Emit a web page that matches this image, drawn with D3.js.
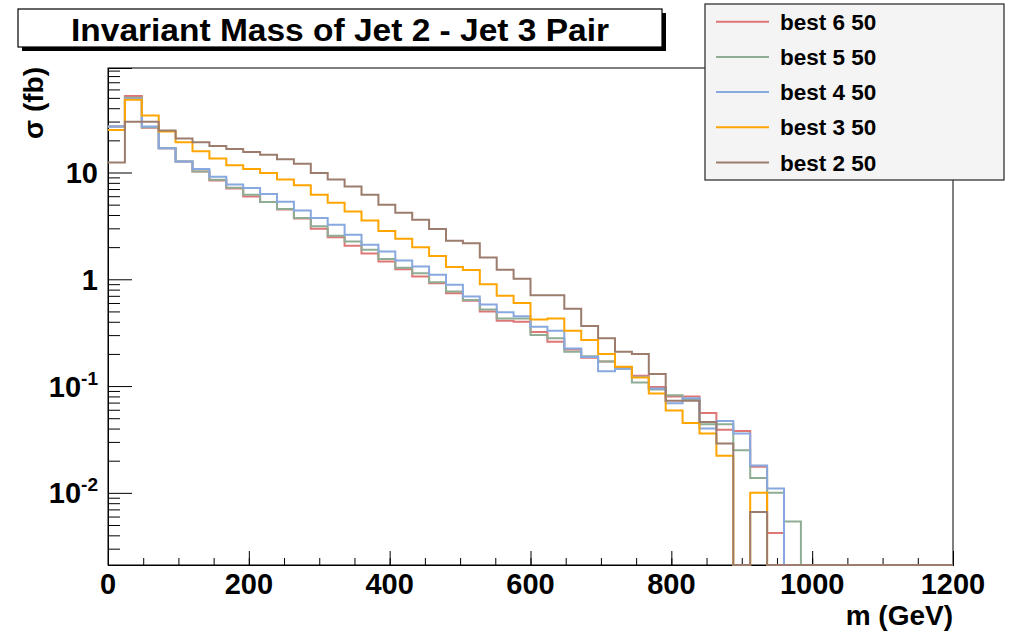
<!DOCTYPE html>
<html><head><meta charset="utf-8">
<script src="https://cdn.jsdelivr.net/npm/d3@7"></script>
<style>
html,body{margin:0;padding:0;background:#fff;}
svg{display:block;font-family:"Liberation Sans",Arial,Helvetica,sans-serif;font-weight:bold;}
</style></head>
<body>
<svg id="c" width="1014" height="635"></svg>
<script>
// ---- data ----
const title = "Invariant Mass of Jet 2 - Jet 3 Pair";
const xTitle = "m (GeV)";
const yTitle = "σ (fb)";
const binWidth = 24; // GeV, 50 bins over 0-1200
const xTicks = [0, 200, 400, 600, 800, 1000, 1200];
const yTicks = [0.01, 0.1, 1, 10];
const yTickLabels = [["10","-2"], ["10","-1"], ["1",""], ["10",""]];
const seriesNames = ["best 6 50", "best 5 50", "best 4 50", "best 3 50", "best 2 50"];
const seriesColors = ["#de7676", "#8fad95", "#88a8e0", "#ffa500", "#9c7c6c"];

const best6 = [27, 52, 26.3, 16.9, 12.7, 10.2, 8.4, 7.1, 5.97, 5.28, 4.5, 3.7, 2.97, 2.47, 2.06, 1.74, 1.47, 1.24, 1.06, 0.92,
  0.74, 0.63, 0.50, 0.41, 0.40, 0.32, 0.26, 0.22, 0.184, 0.17, 0.15, 0.125, 0.098, 0.080, 0.080, 0.056, 0.039, 0.038, 0.0176, 0.0042,
  0, 0, 0, 0, 0, 0, 0, 0, 0, 0];
const best5 = [27, 50, 26.5, 16.9, 12.7, 10.2, 8.55, 7.2, 6.2, 5.28, 4.54, 3.74, 3.13, 2.56, 2.26, 1.89, 1.55, 1.28, 1.14, 0.94,
  0.77, 0.64, 0.52, 0.43, 0.43, 0.30, 0.28, 0.21, 0.19, 0.17, 0.145, 0.108, 0.093, 0.082, 0.075, 0.044, 0.044, 0.025, 0.0138, 0.0100,
  0.0054, 0, 0, 0, 0, 0, 0, 0, 0, 0];
const best4 = [27, 49, 26.9, 16.9, 12.7, 10.8, 9.1, 7.7, 7.15, 6.3, 5.32, 4.41, 3.74, 3.24, 2.61, 2.11, 1.82, 1.5, 1.32, 1.10,
  0.89, 0.69, 0.58, 0.49, 0.45, 0.36, 0.33, 0.225, 0.187, 0.138, 0.145, 0.122, 0.095, 0.069, 0.077, 0.040, 0.047, 0.036, 0.018, 0.011,
  0, 0, 0, 0, 0, 0, 0, 0, 0, 0];
const best3 = [25, 48, 34.1, 24.2, 19.2, 15.8, 13.5, 11.7, 10.8, 9.87, 8.6, 7.6, 6.18, 5.2, 4.32, 3.56, 2.83, 2.40, 2.0, 1.65,
  1.30, 1.22, 0.90, 0.70, 0.60, 0.42, 0.43, 0.33, 0.27, 0.20, 0.152, 0.12, 0.085, 0.059, 0.045, 0.036, 0.0222, 0, 0.0100, 0,
  0, 0, 0, 0, 0, 0, 0, 0, 0, 0];
const best2 = [12.4, 29.8, 29.8, 24.7, 20.8, 19.2, 17.7, 16.6, 15.6, 14.7, 13.3, 12.1, 9.9, 8.6, 7.4, 6.18, 4.99, 4.2, 3.61, 2.95,
  2.30, 2.18, 1.60, 1.23, 1.01, 0.71, 0.71, 0.53, 0.365, 0.28, 0.21, 0.20, 0.13, 0.073, 0.073, 0.046, 0.029, 0, 0.0066, 0,
  0, 0, 0, 0, 0, 0, 0, 0, 0, 0];
const seriesValues = [best6, best5, best4, best3, best2];

// ---- layout ----
const L = 108, R = 953, T = 68, B = 565;
const yMin = 0.00211, yMax = 95.2;
const svg = d3.select("#c");
const x = d3.scaleLinear().domain([0, 1200]).range([L, R]);
const y = d3.scaleLog().domain([yMin, yMax]).range([B, T]);

svg.append("defs").append("clipPath").attr("id", "clip")
  .append("rect").attr("x", L).attr("y", T - 2).attr("width", R - L + 1).attr("height", B - T + 3);

// frame
svg.append("rect").attr("x", L).attr("y", T).attr("width", R - L).attr("height", B - T)
  .attr("fill", "none").attr("stroke", "#000").attr("stroke-width", 1);

// x axis
const xMinor = d3.range(0, 1201, 50);
const gx = svg.append("g").attr("transform", `translate(0,${B})`);
gx.call(d3.axisBottom(x).tickValues(xMinor).tickSize(-7).tickFormat(""));
gx.append("g").call(d3.axisBottom(x).tickValues(xTicks).tickSize(-14).tickFormat(""));
gx.selectAll(".domain").attr("stroke", "#000");
gx.selectAll("line").attr("stroke", "#000");
svg.append("g").selectAll("text").data(xTicks).join("text")
  .attr("x", d => x(d)).attr("y", 594).attr("text-anchor", "middle")
  .attr("font-size", 29).attr("fill", "#000").text(d => d);
svg.append("text").attr("x", R).attr("y", 625).attr("text-anchor", "end")
  .attr("font-size", 28).attr("fill", "#000").text(xTitle);

// y axis
const yMinor = [];
[-3, -2, -1, 0, 1].forEach(d => { for (let k = 2; k <= 9; k++) { const v = k * Math.pow(10, d); if (v > yMin && v < yMax) yMinor.push(v); } });
const gy = svg.append("g").attr("transform", `translate(${L},0)`);
gy.call(d3.axisLeft(y).tickValues(yMinor).tickSize(-12).tickFormat(""));
gy.append("g").call(d3.axisLeft(y).tickValues(yTicks).tickSize(-24).tickFormat(""));
gy.selectAll(".domain").attr("stroke", "#000");
gy.selectAll("line").attr("stroke", "#000");
const yl = svg.append("g").selectAll("text").data(yTicks).join("text")
  .attr("x", 98).attr("y", d => y(d) + 10.5).attr("text-anchor", "end")
  .attr("font-size", 29).attr("fill", "#000");
yl.each(function(d, i) {
  const t = d3.select(this);
  const lab = yTickLabels[i];
  t.append("tspan").text(lab[0]);
  if (lab[1]) t.append("tspan").attr("font-size", 19).attr("dy", -12).text(lab[1]);
});
svg.append("text").attr("transform", "translate(43,67) rotate(-90)").attr("text-anchor", "end")
  .attr("font-size", 28).attr("fill", "#000").text(yTitle);

// histograms (drawn over the axes so zero bins show along the bottom)
const line = d3.line().x(d => x(d[0])).y(d => d[1] > 0 ? y(d[1]) : B).curve(d3.curveStepAfter);
const gH = svg.append("g").attr("clip-path", "url(#clip)");
seriesValues.forEach((vals, k) => {
  const pts = vals.map((v, i) => [i * binWidth, v]);
  pts.push([vals.length * binWidth, vals[vals.length - 1]]);
  gH.append("path").attr("d", line(pts)).attr("fill", "none")
    .attr("stroke", seriesColors[k]).attr("stroke-width", 2);
});

// title box
svg.append("rect").attr("x", 22).attr("y", 13).attr("width", 644).attr("height", 38).attr("fill", "#000");
svg.append("rect").attr("x", 18).attr("y", 9).attr("width", 644).attr("height", 38)
  .attr("fill", "#fff").attr("stroke", "#000").attr("stroke-width", 1.2);
svg.append("text").attr("x", 340).attr("y", 41).attr("text-anchor", "middle")
  .attr("font-size", 32).attr("fill", "#000")
  .attr("textLength", 538).attr("lengthAdjust", "spacingAndGlyphs").text(title);

// legend
svg.append("rect").attr("x", 705).attr("y", 4).attr("width", 299).attr("height", 176)
  .attr("fill", "#f4f4f4").attr("stroke", "#333").attr("stroke-width", 1.3);
const leg = svg.append("g").selectAll("g").data(seriesNames).join("g")
  .attr("transform", (d, i) => `translate(0,${21.7 + i * 35.2})`);
leg.append("line").attr("x1", 716).attr("x2", 769).attr("y1", 0).attr("y2", 0)
  .attr("stroke", (d, i) => seriesColors[i]).attr("stroke-width", 2);
leg.append("text").attr("x", 780).attr("y", 8).attr("font-size", 22.5).attr("fill", "#000").text(d => d);
</script>
</body></html>
